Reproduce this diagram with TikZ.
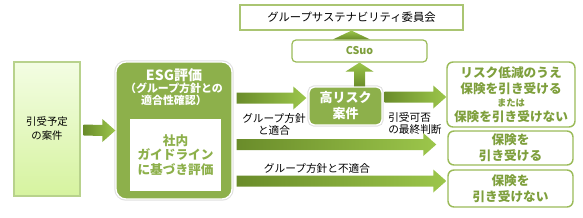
\documentclass[tikz,border=0pt]{standalone}
\usepackage{fontspec}
\setmainfont{Noto Sans CJK JP}
\usetikzlibrary{calc}
\definecolor{leafgreen}{HTML}{8DB04B}
\definecolor{rimgreen}{HTML}{9BBB59}
\definecolor{inkgreen}{HTML}{7E9F3C}
\definecolor{flowdark}{HTML}{6A8C2A}
\definecolor{flowlight}{HTML}{9CC64B}
\definecolor{casetop}{HTML}{F3FDE3}
\definecolor{casebot}{HTML}{D6F39F}
\definecolor{caseline}{HTML}{B8D28C}
\tikzset{
  casebox/.style={draw=caseline,line width=.8pt,top color=casetop,bottom color=casebot,inner sep=0pt,align=center,font=\fontsize{7.8}{10.5}\selectfont},
  greenbox/.style={draw=white,line width=1pt,fill=leafgreen,preaction={draw=black!12,line width=2.6pt},inner sep=0pt,align=center,text=white,font=\bfseries},
  plainbox/.style={draw=rimgreen,line width=.9pt,fill=white,inner sep=0pt,align=center},
  outcome/.style={draw=rimgreen,line width=1.1pt,fill=white,rounded corners=4.5pt,inner sep=0pt,align=center,text=inkgreen,font=\bfseries\fontsize{9.5}{12}\selectfont},
  note/.style={inner sep=0pt,align=center,font=\fontsize{8}{9}\selectfont},
  flowshade/.style={left color=flowdark,right color=flowlight},
  upshade/.style={bottom color=flowdark,top color=flowlight},
}
% fat shaded arrow, start -> tip, same height
\newcommand{\rflow}[2]{%
  \shade[flowshade] ($(#1)+(0,-5.5)$) -- ($(#2)+(-13,-5.5)$) -- ($(#2)+(-13,-11.5)$) -- (#2)
    -- ($(#2)+(-13,11.5)$) -- ($(#2)+(-13,5.5)$) -- ($(#1)+(0,5.5)$) -- cycle;}

\begin{document}
\begin{tikzpicture}[x=.75pt,y=-.75pt]
  \useasboundingbox (0,0) rectangle (583,218);
  % boxes
  \node[casebox,minimum width=49.5pt,minimum height=100.5pt] (case) at (47,129) {引受予定\\の案件};
  \node[greenbox,rounded corners=7.5pt,minimum width=87pt,minimum height=102.75pt] (esg) at (174,130.5) {};
  \node[inner sep=0pt,align=center,text=white,font=\bfseries\fontsize{8.2}{9}\selectfont] (esgtitle) at (174,87.5)
    {{\fontsize{10.5}{12}\selectfont ESG評価}\\（グループ方針との\\適合性確認）};
  \node[fill=white,inner sep=0pt,align=center,minimum width=68.25pt,minimum height=54pt,text=leafgreen,
    font=\bfseries\fontsize{9.5}{11}\selectfont] (guide) at (175.5,155) {社内\\ガイドライン\\に基づき評価};
  \node[greenbox,rounded corners=4pt,minimum width=54.75pt,minimum height=28.5pt,font=\bfseries\fontsize{9.75}{12}\selectfont] (risk) at (345.5,106) {高リスク\\案件};
  \node[plainbox,rounded corners=3pt,minimum width=101.25pt,minimum height=16.5pt,text=inkgreen,font=\bfseries\fontsize{8}{9}\selectfont] (csuo) at (359.5,51) {CSuo};
  \node[plainbox,draw=rimgreen!85,minimum width=167.25pt,minimum height=18.75pt,font=\fontsize{8.5}{9}\selectfont] (committee) at (351.5,17.5) {グループサステナビリティ委員会};
  \node[outcome,minimum width=96pt,minimum height=48.75pt] (res1) at (511,94.5)
    {リスク低減のうえ\\保険を引き受ける\\[-2pt]{\fontsize{7}{8}\selectfont または}\\[-1pt]保険を引き受けない};
  \node[outcome,minimum width=93.75pt,minimum height=25.5pt] (res2) at (510.5,148) {保険を\\引き受ける};
  \node[outcome,minimum width=93.75pt,minimum height=27.75pt] (res3) at (510.5,188.5) {保険を\\引き受けない};
  % labels
  \node[note] (fitlab) at (274,124) {グループ方針\\と適合};
  \node[note,anchor=west,align=left] (finallab) at (388,123) {引受可否\\の最終判断};
  \node[note] (unfitlab) at (317,168) {グループ方針と不適合};
  % flows
  \coordinate (a0s) at ($(case.east)+(3,1)$);
  \coordinate (a0t) at (esg.west);
  \coordinate (a1s) at ($(esg.east)+(4,-32.5)$);
  \coordinate (a1t) at ($(risk.west)+(-2,-8)$);
  \coordinate (a2s) at ($(risk.east)+(2,-9)$);
  \coordinate (a2t) at (res1.west |- a2s);
  \coordinate (a3s) at ($(esg.east)+(4,14)$);
  \coordinate (a3t) at ($(res2.west |- a3s)+(-11,0)$);
  \coordinate (a4s) at ($(esg.east)+(4,50.5)$);
  \coordinate (a4t) at ($(res3.west |- a4s)+(-1,0)$);
  \foreach \ss/\tt in {a0s/a0t,a1s/a1t,a2s/a2t,a3s/a3t,a4s/a4t}{
    \rflow{\ss}{\tt}
  }
  \coordinate (upS) at (risk.north -| csuo.south);
  \shade[upshade] ($(upS)+(-5.5,0)$) -- ($(csuo.south)+(-5.5,9)$) -- ($(csuo.south)+(-14,9)$) -- (csuo.south)
    -- ($(csuo.south)+(14,9)$) -- ($(csuo.south)+(5.5,9)$) -- ($(upS)+(5.5,0)$) -- cycle;
  \coordinate (topS) at (csuo.north -| committee.south);
  \shade[upshade] ($(topS)+(-18.5,0)$) -- (committee.south) -- ($(topS)+(18.5,0)$) -- cycle;
\end{tikzpicture}
\end{document}
